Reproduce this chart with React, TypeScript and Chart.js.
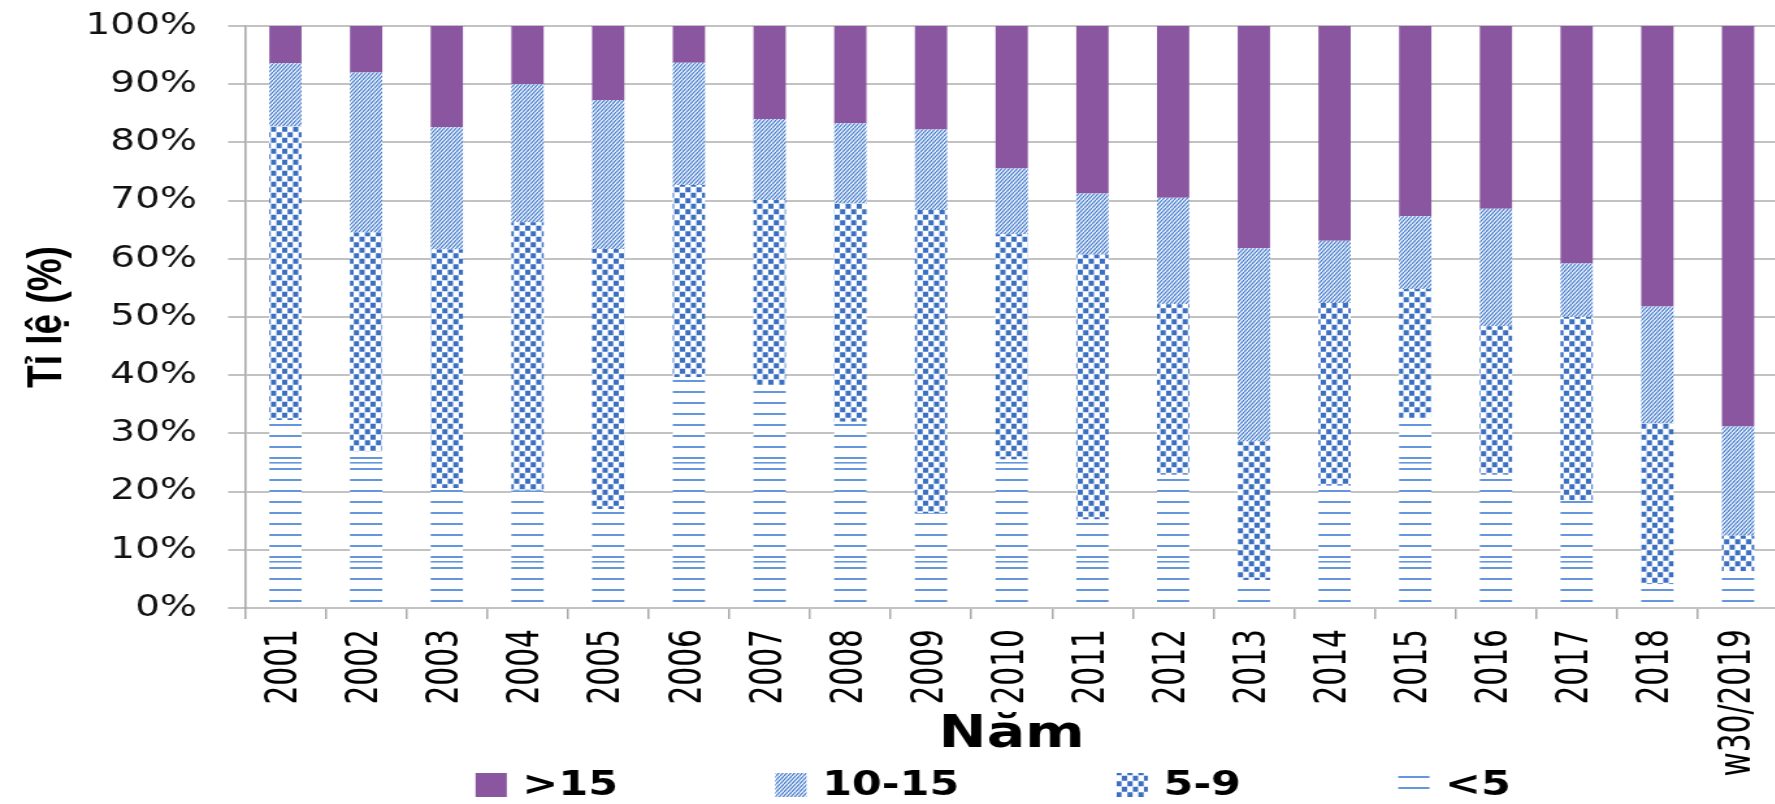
import React, { useEffect, useRef } from 'react';
import { Chart, registerables } from 'chart.js';

Chart.register(...registerables);

// ---- Data ----
const categories = [
  '2001', '2002', '2003', '2004', '2005', '2006', '2007', '2008', '2009', '2010',
  '2011', '2012', '2013', '2014', '2015', '2016', '2017', '2018', 'w30/2019',
];
const under5 = [32.3, 26.9, 20.6, 20.2, 17.0, 39.7, 38.3, 32.0, 16.3, 25.5, 15.2, 22.9, 4.8, 21.0, 32.6, 22.9, 18.5, 4.1, 6.3];
const from5to9 = [50.5, 37.6, 41.0, 46.1, 44.7, 33.0, 31.8, 37.5, 52.1, 38.7, 45.5, 29.3, 23.8, 31.4, 22.2, 25.5, 31.5, 27.7, 6.1];
const from10to15 = [10.8, 27.5, 21.0, 23.7, 25.6, 21.0, 13.9, 13.8, 13.8, 11.3, 10.5, 18.3, 33.2, 10.7, 12.5, 20.2, 9.2, 20.0, 18.8];
const over15 = [6.4, 8.0, 17.4, 10.0, 12.7, 6.3, 16.0, 16.7, 17.8, 24.5, 28.8, 29.5, 38.2, 36.9, 32.7, 31.4, 40.8, 48.2, 68.8];
const seriesNames = ['<5', '5-9', '10-15', '>15'];
const yAxisTitle = 'Tỉ lệ (%)';
const xAxisTitle = 'Năm';

// ---- Layout constants ----
const STRETCH = 1.3;
const LOGICAL_W = 1368;
const CANVAS_H = 804;

function linesPattern(ctx: CanvasRenderingContext2D) {
  const c = document.createElement('canvas');
  c.width = 8; c.height = 99;
  const g = c.getContext('2d')!;
  g.fillStyle = '#ffffff';
  g.fillRect(0, 0, 8, 99);
  g.fillStyle = '#6396dc';
  for (let k = 0; k < 9; k++) g.fillRect(0, 6 + 11 * k, 8, 2);
  g.fillRect(0, 66, 8, 1.6);
  return ctx.createPattern(c, 'repeat')!;
}

function checkerPattern(ctx: CanvasRenderingContext2D) {
  const c = document.createElement('canvas');
  c.width = 17; c.height = 22;
  const g = c.getContext('2d')!;
  g.fillStyle = '#ffffff';
  g.fillRect(0, 0, 17, 22);
  g.fillStyle = '#3b6fc2';
  const rows = [0, 5.5, 11, 16.5];
  rows.forEach((y, r) => {
    const xs = r % 2 === 0 ? [0, 8.5] : [4.25, 12.75];
    xs.forEach((x) => g.fillRect(x + 0.2, y + 0.25, 4.0, 5.0));
  });
  return ctx.createPattern(c, 'repeat')!;
}

function hatchPattern(ctx: CanvasRenderingContext2D) {
  const c = document.createElement('canvas');
  c.width = 6; c.height = 8;
  const g = c.getContext('2d')!;
  g.fillStyle = '#ffffff';
  g.fillRect(0, 0, 6, 8);
  g.strokeStyle = '#4a7fce';
  g.lineWidth = 1.3;
  for (let s = -6; s <= 12; s += 3) {
    g.beginPath();
    g.moveTo(s, 8);
    g.lineTo(s + 6, 0);
    g.stroke();
  }
  return ctx.createPattern(c, 'repeat')!;
}

const legendPlugin = {
  id: 'excelLegend',
  afterDraw(chart: any) {
    const { ctx } = chart;
    const items = chart.data.datasets
      .map((d: any) => ({ text: d.label as string, fill: d.backgroundColor }))
      .reverse();
    ctx.save();
    ctx.font = 'bold 33px "DejaVu Sans", Verdana, sans-serif';
    const box = 24;
    const gapBoxText = 12;
    const gapItems = 121;
    const widths = items.map((it: any) => box + gapBoxText + ctx.measureText(it.text).width);
    const total = widths.reduce((a: number, b: number) => a + b, 0) + gapItems * (items.length - 1);
    let x = 764 - total / 2;
    const cy = 785;
    ctx.textBaseline = 'middle';
    ctx.textAlign = 'left';
    items.forEach((it: any, i: number) => {
      ctx.fillStyle = it.fill;
      ctx.fillRect(x, cy - box / 2, box, box);
      ctx.fillStyle = '#000000';
      ctx.fillText(it.text, x + box + gapBoxText, cy + 1);
      x += widths[i] + gapItems;
    });
    ctx.restore();
  },
};

export default function App() {
  const ref = useRef<HTMLCanvasElement>(null);

  useEffect(() => {
    const canvas = ref.current!;
    const ctx = canvas.getContext('2d')!;
    const pLines = linesPattern(ctx);
    const pChecker = checkerPattern(ctx);
    const pHatch = hatchPattern(ctx);
    const purple = '#8a56a0';

    const chart = new Chart(ctx, {
      type: 'bar',
      data: {
        labels: categories,
        datasets: [
          { label: seriesNames[0], data: under5, backgroundColor: pLines as any, borderWidth: 0 },
          { label: seriesNames[1], data: from5to9, backgroundColor: pChecker as any, borderWidth: 0 },
          { label: seriesNames[2], data: from10to15, backgroundColor: pHatch as any, borderWidth: 0 },
          { label: seriesNames[3], data: over15, backgroundColor: purple, borderWidth: 0 },
        ],
      },
      options: {
        responsive: false,
        animation: false,
        devicePixelRatio: 1,
        events: [],
        layout: { padding: { top: 26, left: 0, right: 0, bottom: 0 } },
        datasets: { bar: { barPercentage: 0.4, categoryPercentage: 1.0 } },
        plugins: {
          legend: { display: false },
          tooltip: { enabled: false },
          title: { display: false },
        },
        scales: {
          x: {
            stacked: true,
            offset: true,
            grid: {
              display: true,
              drawOnChartArea: false,
              drawTicks: true,
              tickLength: 11,
              color: '#a9a9a9',
              lineWidth: 1.5,
              offset: true,
            },
            border: { display: true, color: '#c2c2c2', width: 2 },
            ticks: {
              autoSkip: false,
              maxRotation: 90,
              minRotation: 90,
              padding: 10,
              color: '#000000',
              font: { family: '"DejaVu Sans Condensed", "DejaVu Sans", sans-serif', size: 33 },
            },
            title: {
              display: true,
              text: xAxisTitle,
              color: '#000000',
              font: { family: '"DejaVu Sans", Verdana, sans-serif', size: 44, weight: 'bold' },
              padding: { top: 0, bottom: 42 },
            },
            afterFit: (scale: any) => {
              scale.height = 196;
              scale.paddingLeft = 0;
              scale.paddingRight = 0;
            },
          },
          y: {
            stacked: true,
            min: 0,
            max: 100,
            ticks: {
              stepSize: 10,
              padding: 24,
              color: '#111111',
              font: { family: '"DejaVu Sans", Verdana, sans-serif', size: 30 },
              callback: (v: any) => v + '%',
            },
            grid: {
              color: '#c2c2c2',
              lineWidth: 2,
              drawTicks: true,
              tickLength: 13,
            },
            border: { display: true, color: '#a9a9a9', width: 1.6 },
            title: {
              display: true,
              text: yAxisTitle,
              color: '#000000',
              font: { family: '"Liberation Sans", Arial, sans-serif', size: 37, weight: 'bold' },
              padding: { top: 15, bottom: 0 },
            },
            afterFit: (scale: any) => {
              scale.width = 188.5;
              scale.paddingTop = 0;
              scale.paddingBottom = 0;
            },
          },
        },
      },
      plugins: [legendPlugin],
    });

    return () => chart.destroy();
  }, []);

  return (
    <div
      style={{
        position: 'fixed',
        left: 0,
        top: 0,
        width: 1775,
        height: 804,
        overflow: 'hidden',
        background: '#ffffff',
      }}
    >
      <div
        style={{
          width: LOGICAL_W,
          height: CANVAS_H,
          transform: `scaleX(${STRETCH})`,
          transformOrigin: '0 0',
        }}
      >
        <canvas ref={ref} width={LOGICAL_W} height={CANVAS_H} />
      </div>
    </div>
  );
}
